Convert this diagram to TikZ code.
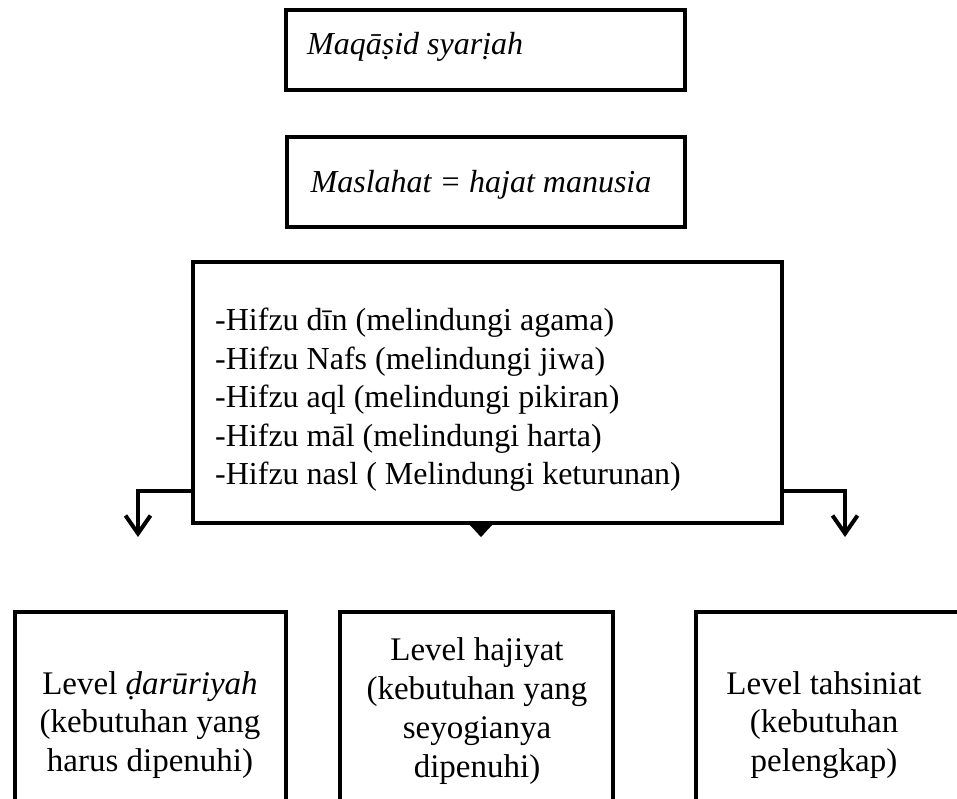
\documentclass[tikz,border=0pt]{standalone}
\usepackage{fontspec}
\setmainfont{Liberation Serif}
\usetikzlibrary{arrows.meta,calc}
\begin{document}
\begin{tikzpicture}[x=1pt,y=-1pt,
  box/.style={draw=black, line width=4.5pt, rectangle, inner sep=0pt},
  conn/.style={line width=4pt, -{Straight Barb[length=18pt,width=25pt]}},
  midtip/.style={line width=0.4pt, -{Triangle[width=22pt,length=12pt]}},
  txt/.style={font=\fontsize{32}{38.5}\selectfont, inner sep=0pt},
  btxt/.style={font=\fontsize{33}{38.8}\selectfont, inner sep=0pt, align=center},
]
\useasboundingbox (0,0) rectangle (957,798);
\clip (0,0) rectangle (957,798);

% boxes
\node[box, minimum width=399pt, minimum height=80pt] (top) at (485.5,50) {};
\node[box, minimum width=398pt, minimum height=90pt] (sec) at (486,182) {};
\node[box, minimum width=589pt, minimum height=261pt] (big) at (487.5,392.5) {};
\node[box, minimum width=271pt, minimum height=238pt] (bl) at (150.5,731) {};
\node[box, minimum width=273pt, minimum height=238pt] (bm) at (476.5,731) {};
\node[box, minimum width=266pt, minimum height=238pt] (br) at (829,731) {};

% texts
\node[txt, anchor=base west] (ttop) at (307,54) {\itshape Maqāṣid syarịah};
\node[txt, anchor=base] (tsec) at (481,192) {\itshape Maslahat = hajat manusia};
\node[txt, anchor=west, align=left] (tbig) at (215,400) {-Hifzu dīn (melindungi agama)\\
-Hifzu Nafs (melindungi jiwa)\\
-Hifzu aql (melindungi pikiran)\\
-Hifzu māl (melindungi harta)\\
-Hifzu nasl ( Melindungi keturunan)};
\node[btxt] (tbl) at (150,725) {Level \textit{ḍarūriyah}\\(kebutuhan yang\\harus dipenuhi)};
\node[btxt] (tbm) at (477,711) {Level hajiyat\\(kebutuhan yang\\seyogianya\\dipenuhi)};
\node[btxt] (tbr) at (824,725) {Level tahsiniat\\(kebutuhan\\pelengkap)};

% connectors
\coordinate (lend) at (138,537);
\coordinate (rend) at (845,537);
\coordinate (mstart) at ($(big.south)+(-6.5,0)$);
\coordinate (mend) at (481,537);
\draw[conn] ($(big.south west)+(0,-34)$) -| (lend);
\draw[conn] ($(big.south east)+(0,-34)$) -| (rend);
\draw[midtip] (mstart) -- (mend);
\end{tikzpicture}
\end{document}
